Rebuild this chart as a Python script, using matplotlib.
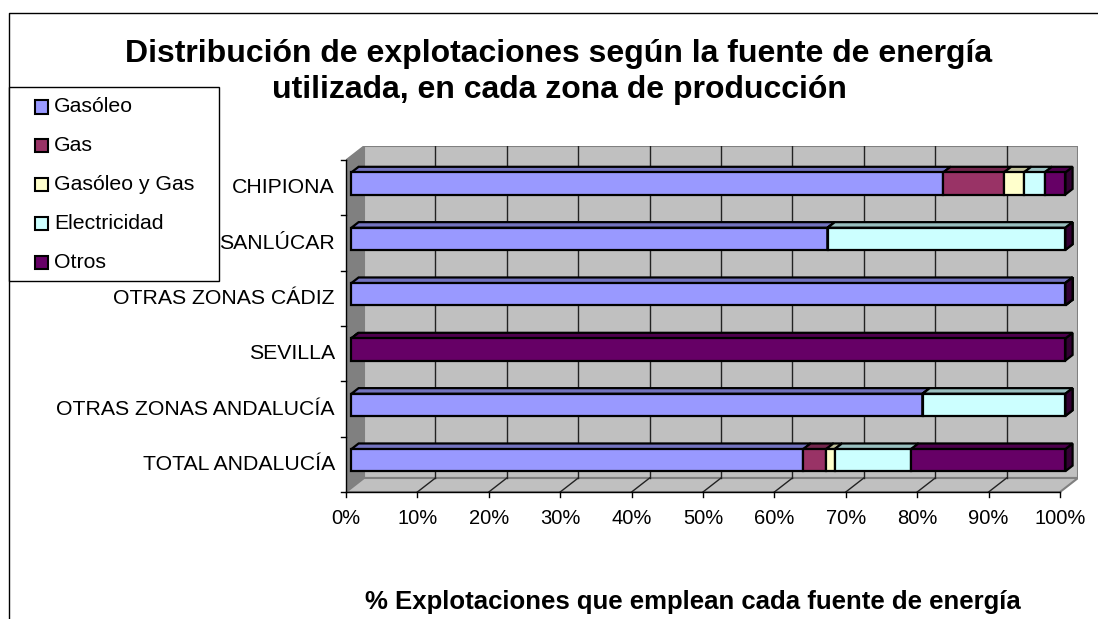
import matplotlib
matplotlib.use("Agg")
import matplotlib.pyplot as plt
from matplotlib.patches import Polygon, Rectangle
from matplotlib.lines import Line2D
import numpy as np

plt.rcParams['font.family'] = ['Liberation Sans', 'DejaVu Sans']

# zonas, de abajo a arriba
zonas = ["TOTAL ANDALUCÍA", "OTRAS ZONAS ANDALUCÍA", "SEVILLA",
         "OTRAS ZONAS CÁDIZ", "SANLÚCAR", "CHIPIONA"]
series = ["Gasóleo", "Gas", "Gasóleo y Gas", "Electricidad", "Otros"]
gasoleo = [63.3, 80.0, 0.0, 100.0, 66.7, 82.9]
gas = [3.2, 0.0, 0.0, 0.0, 0.0, 8.5]
gasoleo_gas = [1.2, 0.0, 0.0, 0.0, 0.0, 2.8]
electricidad = [10.7, 20.0, 0.0, 0.0, 33.3, 2.9]
otros = [21.6, 0.0, 100.0, 0.0, 0.0, 2.9]
colores = ["#9999FF", "#993366", "#FFFFCC", "#CCFFFF", "#660066"]
ticks_x = np.arange(0, 101, 10)

W, H = 1098, 619
fig = plt.figure(figsize=(W / 100, H / 100), dpi=100)


def fx(px):
    return px / W


def fy(py):
    return 1 - py / H


# profundidad 3D en unidades de datos
DX = 18 / 7.14
DY = 14 / 55.33
d0, d1 = 0.3, 0.7
alto = 0.40

ax = fig.add_axes([fx(346), fy(492), (1078 - 346) / W, (492 - 146) / H])
ax.set_xlim(0, 100 + DX)
ax.set_ylim(-0.5, 5.5 + DY)
ax.axis('off')

y0, y1 = -0.5, len(zonas) - 0.5

# paredes y suelo
ax.add_patch(Polygon([(DX, y0 + DY), (100 + DX, y0 + DY), (100 + DX, y1 + DY), (DX, y1 + DY)],
                     facecolor="#C0C0C0", edgecolor="#808080", lw=1.5, zorder=1))
ax.add_patch(Polygon([(0, y0), (DX, y0 + DY), (DX, y1 + DY), (0, y1)],
                     facecolor="#808080", edgecolor="#808080", lw=1, zorder=1))
ax.add_patch(Polygon([(0, y0), (100, y0), (100 + DX, y0 + DY), (DX, y0 + DY)],
                     facecolor="#C0C0C0", edgecolor="#808080", lw=1.5, zorder=1))
for t in ticks_x[1:-1]:
    ax.plot([t + DX, t + DX], [y0 + DY, y1 + DY], color="#222222", lw=1, zorder=2)
    ax.plot([t, t + DX], [y0, y0 + DY], color="#222222", lw=1, zorder=2)


def oscuro(c, f):
    rgb = np.array(matplotlib.colors.to_rgb(c))
    return tuple(rgb * f)


valores = [gasoleo, gas, gasoleo_gas, electricidad, otros]
for i in range(len(zonas)):
    izq = 0.0
    for j, vals in enumerate(valores):
        w = vals[i]
        xa = izq + d0 * DX
        xb = izq + w + d0 * DX
        yb = i - alto / 2 + d0 * DY
        yt = i + alto / 2 + d0 * DY
        ddx = (d1 - d0) * DX
        ddy = (d1 - d0) * DY
        ax.add_patch(Polygon([(xb, yb), (xb + ddx, yb + ddy), (xb + ddx, yt + ddy), (xb, yt)],
                             facecolor=oscuro(colores[j], 0.5), edgecolor="black",
                             lw=1.6, zorder=3, clip_on=False))
        if w > 0:
            ax.add_patch(Polygon([(xa, yt), (xb, yt), (xb + ddx, yt + ddy), (xa + ddx, yt + ddy)],
                                 facecolor=oscuro(colores[j], 0.75), edgecolor="black",
                                 lw=1.6, zorder=3, clip_on=False))
            ax.add_patch(Rectangle((xa, yb), w, alto, facecolor=colores[j],
                                   edgecolor="black", lw=1.6, zorder=3, clip_on=False))
        izq += w

# ejes
ax.plot([0, 0], [y0, y1], color="black", lw=1, zorder=5, clip_on=False)
ax.plot([0, 100], [y0, y0], color="black", lw=1, zorder=5, clip_on=False)
for k in range(len(zonas) + 1):
    ax.plot([-0.7, 0], [y0 + k, y0 + k], color="black", lw=1, clip_on=False)
for t in ticks_x:
    ax.plot([t, t], [y0, y0 - 0.09], color="black", lw=1, clip_on=False)
    ax.text(t, y0 - 0.47, f"{t}%", ha="center", va="center", fontsize=14.5)
for i, z in enumerate(zonas):
    ax.text(-1.55, i, z, ha="right", va="center", fontsize=15.3)

fig.text(fx(559), fy(72), "Distribución de explotaciones según la fuente de energía\n"
         "utilizada, en cada zona de producción", ha="center", va="center",
         fontsize=23, fontweight="bold", linespacing=1.25)
fig.text(fx(365), fy(602), "% Explotaciones que emplean cada fuente de energía",
         ha="left", va="center", fontsize=18.5, fontweight="bold")

# borde del gráfico
fig.add_artist(Line2D([fx(9), fx(9), 1.01], [-0.01, fy(13), fy(13)], color="black", lw=1))

# leyenda
fig.add_artist(Rectangle((fx(9), fy(281)), (219 - 9) / W, (281 - 87) / H,
                         transform=fig.transFigure, facecolor="white",
                         edgecolor="black", lw=1, zorder=6))
for k, (nombre, c) in enumerate(zip(series, colores)):
    yc = 107 + k * 38.8
    fig.add_artist(Rectangle((fx(35), fy(yc + 6.5)), 13 / W, 13 / H,
                             transform=fig.transFigure, facecolor=c,
                             edgecolor="black", lw=1.5, zorder=7))
    fig.text(fx(54), fy(yc), nombre, ha="left", va="center", fontsize=15.3, zorder=7)

fig.savefig("out.png", dpi=100)
